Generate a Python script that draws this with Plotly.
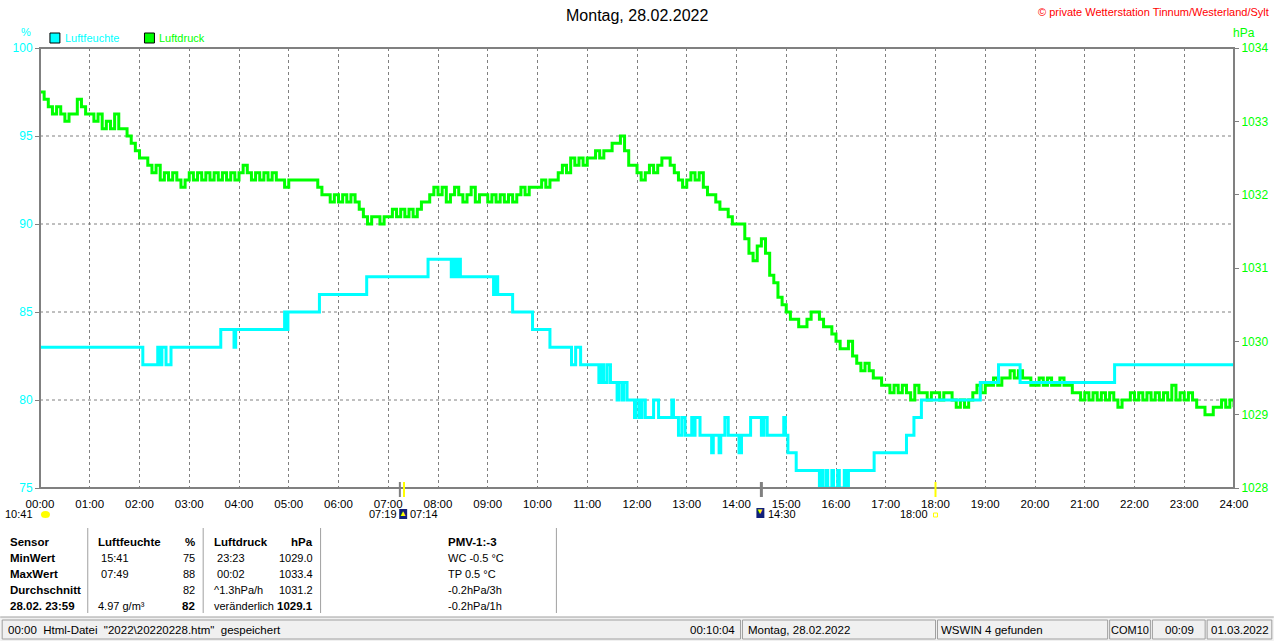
import plotly.graph_objects as go

# plot area in screen pixels (the window is 1280 x 641)
W, H = 1280, 641
L, R, T, B = 40, 1240, 48, 488

hour_labels = ["00:00", "01:00", "02:00", "03:00", "04:00", "05:00", "06:00",
               "07:00", "08:00", "09:00", "10:00", "11:00", "12:00", "13:00",
               "14:00", "15:00", "16:00", "17:00", "18:00", "19:00", "20:00",
               "21:00", "22:00", "23:00", "24:00"]

hum_ticks = [75, 80, 85, 90, 95, 100]
press_ticks = [1028, 1029, 1030, 1031, 1032, 1033, 1034]

# Luftfeuchte (%) - value changes, held until the next entry
hum_times = ["00:00", "02:04", "02:22", "02:24", "02:27", "02:32", "02:38",
             "03:38", "03:54", "03:56", "04:55", "04:57", "04:59",
             "05:37", "06:34", "07:48",
             "08:16", "08:19", "08:22", "08:25", "08:27",
             "09:07", "09:09", "09:12", "09:30", "09:54", "10:15",
             "10:41", "10:46", "10:52",
             "11:14", "11:17", "11:20", "11:24", "11:28",
             "11:36", "11:38", "11:42", "11:44", "11:48",
             "11:57", "11:59", "12:03", "12:06", "12:10",
             "12:20", "12:26", "12:42", "12:44",
             "12:50", "12:54", "12:58", "13:06", "13:08", "13:10", "13:16",
             "13:30", "13:32", "13:39", "13:41", "13:46", "13:50",
             "14:03", "14:06", "14:17", "14:30", "14:33", "14:37",
             "14:57", "14:59", "15:02", "15:12",
             "15:40", "15:43", "15:44", "15:48", "15:50", "15:55", "15:57",
             "16:02", "16:04", "16:10", "16:12", "16:15",
             "16:46", "17:25", "17:34", "17:43",
             "18:54", "19:16", "19:42", "21:36", "24:00"]
hum_values = [83, 82, 83, 82, 83, 82, 83,
              84, 83, 84, 85, 84, 85,
              86, 87, 88,
              87, 88, 87, 88, 87,
              86, 87, 86, 85, 84, 83,
              82, 83, 82,
              81, 82, 81, 82, 81,
              80, 81, 80, 81, 80,
              79, 80, 79, 80, 79,
              80, 79, 80, 79,
              78, 79, 78, 79, 78, 79, 78,
              77, 78, 77, 78, 79, 78,
              77, 78, 79, 78, 79, 78,
              79, 78, 77, 76,
              75, 76, 75, 76, 75, 76, 75,
              76, 75, 76, 75, 76,
              77, 78, 79, 80,
              81, 82, 81, 82, 82]

# Luftdruck (hPa) - one reading every 5 minutes from 00:00 to 24:00
press_step_min = 5
press_values = [
    1033.4, 1033.3, 1033.2, 1033.1, 1033.2, 1033.1, 1033.0, 1033.1, 1033.1, 1033.3, 1033.2, 1033.1,
    1033.1, 1033.0, 1033.1, 1032.9, 1033.0, 1032.9, 1033.1, 1032.9, 1032.9, 1032.8, 1032.7, 1032.6,
    1032.5, 1032.5, 1032.4, 1032.3, 1032.4, 1032.2, 1032.3, 1032.2, 1032.3, 1032.2, 1032.1, 1032.2,
    1032.3, 1032.2, 1032.3, 1032.2, 1032.3, 1032.2, 1032.3, 1032.2, 1032.3, 1032.2, 1032.3, 1032.2,
    1032.3, 1032.4, 1032.3, 1032.2, 1032.3, 1032.2, 1032.3, 1032.2, 1032.3, 1032.2, 1032.2, 1032.1,
    1032.2, 1032.2, 1032.2, 1032.2, 1032.2, 1032.2, 1032.2, 1032.1, 1032.0, 1032.0, 1031.9, 1032.0,
    1031.9, 1032.0, 1031.9, 1032.0, 1031.9, 1031.8, 1031.7, 1031.6, 1031.7, 1031.7, 1031.6, 1031.7,
    1031.7, 1031.8, 1031.7, 1031.8, 1031.7, 1031.8, 1031.7, 1031.8, 1031.9, 1031.9, 1032.0, 1032.1,
    1032.0, 1032.1, 1031.9, 1032.0, 1032.1, 1032.0, 1031.9, 1032.0, 1032.1, 1031.9, 1032.0, 1032.0,
    1031.9, 1032.0, 1031.9, 1032.0, 1031.9, 1032.0, 1031.9, 1032.0, 1032.1, 1032.0, 1032.1, 1032.1,
    1032.1, 1032.2, 1032.1, 1032.2, 1032.2, 1032.3, 1032.4, 1032.3, 1032.5, 1032.4, 1032.5, 1032.4,
    1032.5, 1032.5, 1032.6, 1032.5, 1032.6, 1032.6, 1032.7, 1032.7, 1032.8, 1032.6, 1032.4, 1032.4,
    1032.3, 1032.2, 1032.3, 1032.4, 1032.3, 1032.4, 1032.5, 1032.5, 1032.4, 1032.3, 1032.2, 1032.1,
    1032.2, 1032.3, 1032.2, 1032.3, 1032.1, 1032.0, 1032.0, 1031.9, 1031.8, 1031.8, 1031.7, 1031.6,
    1031.6, 1031.6, 1031.4, 1031.2, 1031.1, 1031.3, 1031.4, 1031.2, 1030.9, 1030.8, 1030.6, 1030.5,
    1030.4, 1030.3, 1030.3, 1030.2, 1030.2, 1030.3, 1030.4, 1030.4, 1030.3, 1030.2, 1030.2, 1030.1,
    1030.0, 1029.9, 1029.9, 1030.0, 1029.8, 1029.7, 1029.6, 1029.7, 1029.6, 1029.5, 1029.5, 1029.4,
    1029.4, 1029.3, 1029.4, 1029.3, 1029.4, 1029.3, 1029.2, 1029.4, 1029.3, 1029.3, 1029.2, 1029.3,
    1029.3, 1029.2, 1029.3, 1029.3, 1029.2, 1029.1, 1029.2, 1029.1, 1029.2, 1029.3, 1029.4, 1029.3,
    1029.4, 1029.4, 1029.5, 1029.4, 1029.5, 1029.5, 1029.6, 1029.5, 1029.6, 1029.5, 1029.5, 1029.4,
    1029.4, 1029.5, 1029.4, 1029.5, 1029.4, 1029.4, 1029.5, 1029.4, 1029.4, 1029.3, 1029.3, 1029.2,
    1029.3, 1029.2, 1029.3, 1029.2, 1029.3, 1029.2, 1029.3, 1029.2, 1029.1, 1029.2, 1029.2, 1029.3,
    1029.2, 1029.3, 1029.2, 1029.3, 1029.2, 1029.3, 1029.2, 1029.3, 1029.2, 1029.4, 1029.2, 1029.3,
    1029.2, 1029.3, 1029.2, 1029.1, 1029.1, 1029.0, 1029.0, 1029.1, 1029.1, 1029.2, 1029.1, 1029.2,
    1029.1]

# summary table below the chart
table_rows = [
    ["<b>Sensor</b>", "<b>Luftfeuchte</b>", "<b>%</b>", "<b>Luftdruck</b>", "<b>hPa</b>", "<b>PMV-1:-3</b>"],
    ["<b>MinWert</b>", "\u00a015:41", "75", "\u00a023:23", "1029.0", "WC -0.5 °C"],
    ["<b>MaxWert</b>", "\u00a007:49", "88", "\u00a000:02", "1033.4", "TP 0.5 °C"],
    ["<b>Durchschnitt</b>", "", "82", "^1.3hPa/h", "1031.2", "-0.2hPa/3h"],
    ["<b>28.02. 23:59</b>", "4.97 g/m³", "<b>82</b>", "veränderlich", "<b>1029.1</b>", "-0.2hPa/1h"],
]


def hours(t):
    hh, mm = t.split(":")
    return int(hh) + int(mm) / 60


def px(x):
    return (x - L) / (R - L)


def py(y):
    return (B - y) / (B - T)


FONT = "Liberation Sans"
GRAY = "#808080"
CYAN = "#00ffff"
GREEN = "#00ff00"

hum_x = [hours(t) for t in hum_times]
press_x = [i * press_step_min / 60 for i in range(len(press_values))]

fig = go.Figure()
fig.add_trace(go.Scatter(x=press_x, y=press_values, mode="lines", yaxis="y",
                         line=dict(color=GREEN, width=3, shape="hv"),
                         name="Luftdruck"))
fig.add_trace(go.Scatter(x=hum_x, y=hum_values, mode="lines", yaxis="y2",
                         line=dict(color=CYAN, width=3, shape="hv"),
                         name="Luftfeuchte"))

shapes = []
# horizontal dashed grid (humidity steps)
for v in hum_ticks[1:-1]:
    shapes.append(dict(type="line", xref="paper", yref="y2", x0=0, x1=1, y0=v, y1=v,
                       line=dict(color=GRAY, width=1, dash="3px,3px"), layer="below"))
# frame
shapes.append(dict(type="rect", xref="paper", yref="paper", x0=0, x1=1, y0=0, y1=1,
                   line=dict(color=GRAY, width=2)))

# sunrise / sunset / moon markers on the time axis
for t, col, wd in [("07:14", GRAY, 2), ("07:19", "#ffff00", 2), ("14:30", GRAY, 3), ("18:00", "#ffff00", 2)]:
    shapes.append(dict(type="line", xref="x", yref="paper", x0=hours(t), x1=hours(t),
                       y0=py(482), y1=py(497), line=dict(color=col, width=wd)))
# small icons
shapes.append(dict(type="circle", xref="paper", yref="paper", x0=px(41), x1=px(50),
                   y0=py(518), y1=py(511), fillcolor="#ffff00", line=dict(width=0)))
shapes.append(dict(type="rect", xref="paper", yref="paper", x0=px(401), x1=px(409),
                   y0=py(519), y1=py(509), fillcolor="#10207a", line=dict(width=0)))
shapes.append(dict(type="rect", xref="paper", yref="paper", x0=px(760), x1=px(768),
                   y0=py(518), y1=py(508), fillcolor="#10207a", line=dict(width=0)))
shapes.append(dict(type="rect", xref="paper", yref="paper", x0=px(938), x1=px(942),
                   y0=py(517), y1=py(513), line=dict(color="#ffff00", width=1)))

# legend boxes
shapes.append(dict(type="rect", xref="paper", yref="paper", x0=px(50), x1=px(60),
                   y0=py(43), y1=py(33), fillcolor=CYAN, line=dict(color="black", width=1)))
shapes.append(dict(type="rect", xref="paper", yref="paper", x0=px(145), x1=px(155),
                   y0=py(43), y1=py(33), fillcolor=GREEN, line=dict(color="black", width=1)))

# table separators
for x in [88, 204, 322, 559]:
    shapes.append(dict(type="line", xref="paper", yref="paper", x0=px(x), x1=px(x),
                       y0=py(528), y1=py(613), line=dict(color="#a0a0a0", width=1)))

# status bar
shapes.append(dict(type="rect", xref="paper", yref="paper", x0=px(0), x1=px(W),
                   y0=py(H), y1=py(617), fillcolor="#f0f0f0", line=dict(width=0)))
shapes.append(dict(type="line", xref="paper", yref="paper", x0=px(0), x1=px(W),
                   y0=py(617), y1=py(617), line=dict(color="#a0a0a0", width=1)))
for x0, x1 in [(2, 744), (746, 940), (942, 1113), (1115, 1156), (1158, 1211), (1213, 1278)]:
    shapes.append(dict(type="rect", xref="paper", yref="paper", x0=px(x0), x1=px(x1),
                       y0=py(639), y1=py(620), line=dict(color="#a0a0a0", width=1)))

ann = []


def text(x, y, s, anchor="left", size=11, color="black"):
    ann.append(dict(x=px(x), y=py(y), xref="paper", yref="paper", text=s, showarrow=False,
                    xanchor=anchor, yanchor="middle", font=dict(family=FONT, size=size, color=color)))


text(640, 15, "Montag, 28.02.2022", "center", 16)
text(1277, 12, "© private Wetterstation Tinnum/Westerland/Sylt", "right", 11, "#ff0000")
text(26, 32, "%", "center", 11, CYAN)
text(1250, 33, "hPa", "center", 12, GREEN)
text(63, 38, "Luftfeuchte", "left", 11, CYAN)
text(158, 38, "Luftdruck", "left", 11, GREEN)

text(35, 514, "10:41", "right")
text(401, 514, "07:19", "right")
text(410, 514, "07:14", "left")
text(770, 514, "14:30", "left")
text(934, 514, "18:00", "right")
text(405, 513, "▲", "center", 8, "#ffff00")
text(764, 512, "▼", "center", 8, "#ffff00")

row_y = [542, 558, 574, 590, 606]
col_x = [(8, "left"), (96, "left"), (198, "right"), (213, "left"), (316, "right"), (448, "left")]
for yy, row in zip(row_y, table_rows):
    for (xx, anc), s in zip(col_x, row):
        if s:
            text(xx, yy, s, anc, 11.5 if "<b>" in s else 11)

text(6, 630, "00:00\u00a0 Html-Datei\u00a0 \"2022\\20220228.htm\"\u00a0 gespeichert", "left", 11.5)
text(741, 630, "00:10:04", "right", 11.5)
text(750, 630, "Montag, 28.02.2022", "left", 11.5)
text(944, 630, "WSWIN 4 gefunden", "left", 11.5)
text(1135.5, 630, "COM10", "center", 11)
text(1185, 630, "00:09", "center", 11.5)
text(1246, 630, "01.03.2022", "center", 11.5)

fig.update_layout(
    width=W, height=H,
    margin=dict(l=L, r=W - R, t=T, b=H - B),
    paper_bgcolor="white", plot_bgcolor="white",
    showlegend=False,
    font=dict(family=FONT, size=11, color="black"),
    xaxis=dict(range=[0, 24], tickvals=list(range(25)), ticktext=hour_labels,
               showgrid=True, gridcolor=GRAY, gridwidth=1, griddash="3px,3px",
               ticks="outside", ticklen=5, tickcolor="rgba(0,0,0,0)",
               zeroline=False, showline=False, tickfont=dict(size=11.5, color="black")),
    yaxis=dict(range=[1028, 1034], tickvals=press_ticks, side="right",
               showgrid=False, zeroline=False, ticks="outside", ticklen=4,
               tickcolor=GRAY, tickfont=dict(size=12, color=GREEN)),
    yaxis2=dict(range=[75, 100], tickvals=hum_ticks, side="left", overlaying="y",
                showgrid=False, zeroline=False, ticks="outside", ticklen=4,
                tickcolor=GRAY, tickfont=dict(size=12, color=CYAN)),
    shapes=shapes,
    annotations=ann,
)

fig.write_html("out.html", config={"displayModeBar": False},
               post_script="document.body.style.margin='0px';document.body.style.overflow='hidden';")
